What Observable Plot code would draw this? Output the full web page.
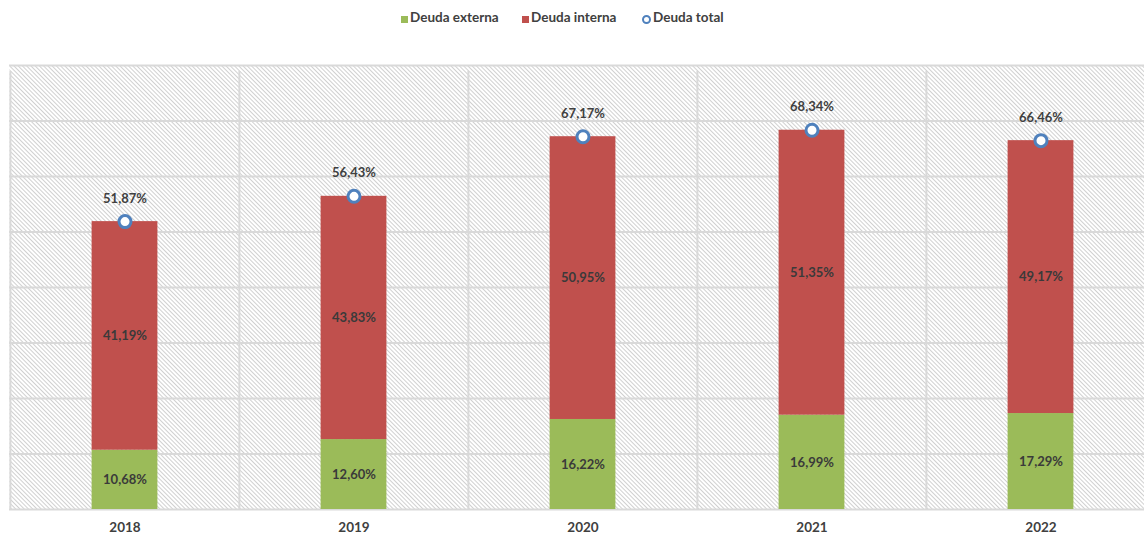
<!DOCTYPE html>
<html>
<head>
<meta charset="utf-8">
<script src="https://cdn.jsdelivr.net/npm/d3@7"></script>
<script src="https://cdn.jsdelivr.net/npm/@observablehq/plot@0.6"></script>
<style>
  body { margin: 0; background: #fff; font-family: Lato, "Open Sans", sans-serif; overflow: hidden; }
  #legend { position: relative; height: 40px; font-weight: bold; font-size: 13.5px; color: #404040; }
  .item { position: absolute; top: 9px; display: flex; align-items: center; }
  .sw { width: 7px; height: 7px; margin-right: 2px; margin-top: 5px; }
  .dotsw { width: 5px; height: 5px; border: 2px solid #4F81BD; border-radius: 50%; background: #fff; margin-right: 2px; margin-top: 5px; }
</style>
</head>
<body>
<div id="legend">
  <div class="item" style="left:401px"><div class="sw" style="background:#9BBB59"></div>Deuda externa</div>
  <div class="item" style="left:522px"><div class="sw" style="background:#C0504D"></div>Deuda interna</div>
  <div class="item" style="left:642px"><div class="dotsw"></div>Deuda total</div>
</div>
<div id="chart"></div>
<script>
const years = ["2018", "2019", "2020", "2021", "2022"];
const deudaExterna = [10.68, 12.60, 16.22, 16.99, 17.29];
const deudaInterna = [41.19, 43.83, 50.95, 51.35, 49.17];
const deudaTotal = [51.87, 56.43, 67.17, 68.34, 66.46];
const yTicks = [0, 10, 20, 30, 40, 50, 60, 70, 80];
const series = ["Deuda externa", "Deuda interna"];
const colors = ["#9BBB59", "#C0504D"];

const stacked = [];
years.forEach((y, i) => {
  stacked.push({year: y, serie: series[0], value: deudaExterna[i]});
  stacked.push({year: y, serie: series[1], value: deudaInterna[i]});
});
const totals = years.map((y, i) => ({year: y, value: deudaTotal[i]}));
const fmt = v => v.toFixed(2).replace(".", ",") + "%";

const W = 1144, left = 9, right = 1155;
const band = (right - left) / years.length;
const barW = 66;
const inset = (band - barW) / 2;

const chart = Plot.plot({
  width: W,
  height: 495,
  marginTop: 25,
  marginBottom: 26,
  marginLeft: left,
  marginRight: W - right,
  x: {domain: years, padding: 0, axis: null},
  y: {domain: [0, 80], axis: null},
  color: {domain: series, range: colors},
  style: {fontFamily: "Lato, 'Open Sans', sans-serif", background: "transparent", overflow: "visible"},
  marks: [
    Plot.frame({fill: "url(#hatch)", stroke: null}),
    Plot.ruleY(yTicks, {stroke: "#d9d9d9", strokeWidth: 2}),
    Plot.ruleX(years, {y1: 0, y2: 80, dx: -band / 2, stroke: "#d9d9d9", strokeWidth: 2, insetBottom: -6}),
    Plot.ruleX([years[years.length - 1]], {y1: 0, y2: 80, dx: band / 2, stroke: "#d9d9d9", strokeWidth: 2, insetBottom: -6}),
    Plot.barY(stacked, {x: "year", y: "value", fill: "serie", z: "serie", order: series, insetLeft: inset, insetRight: inset}),
    Plot.text(stacked, Plot.stackY({x: "year", y: "value", z: "serie", order: series, text: d => fmt(d.value), fill: "#3a3a3a", fontWeight: "bold", fontSize: 13})),
    Plot.dot(totals, {x: "year", y: "value", r: 6, fill: "white", stroke: "#4F81BD", strokeWidth: 3}),
    Plot.text(totals, {x: "year", y: "value", text: d => fmt(d.value), dy: -23, fill: "#404040", fontWeight: "bold", fontSize: 13}),
    Plot.axisX({domain: years, tickSize: 0, tickPadding: 13, fontWeight: "bold", fontSize: 13.5, fill: "#404040", label: null})
  ]
});

const svg = d3.select(chart);
const defs = svg.insert("defs", ":first-child");
const pat = defs.append("pattern")
  .attr("id", "hatch")
  .attr("patternUnits", "userSpaceOnUse")
  .attr("width", 3).attr("height", 3)
  .attr("patternTransform", "rotate(-45)");
pat.append("rect").attr("width", 3).attr("height", 3).attr("fill", "#ffffff");
pat.append("line").attr("x1", 0.5).attr("y1", 0).attr("x2", 0.5).attr("y2", 3)
  .attr("stroke", "#d0d0d0").attr("stroke-width", 1);

document.getElementById("chart").appendChild(chart);
</script>
</body>
</html>
